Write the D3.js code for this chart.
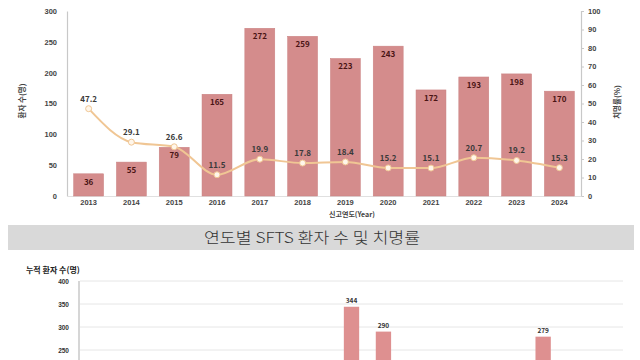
<!DOCTYPE html>
<html><head><meta charset="utf-8">
<script src="https://cdn.jsdelivr.net/npm/d3@7/dist/d3.min.js"></script>
<style>
html,body{margin:0;padding:0;background:#fff;}
svg{display:block;font-family:"Noto Sans CJK KR","Noto Sans",sans-serif;}
</style></head>
<body>
<svg id="c" width="640" height="360"></svg>
<script>
// Top chart data
const years = ["2013","2014","2015","2016","2017","2018","2019","2020","2021","2022","2023","2024"];
const patients = [36,55,79,165,272,259,223,243,172,193,198,170];
const fatality = [47.2,29.1,26.6,11.5,19.9,17.8,18.4,15.2,15.1,20.7,19.2,15.3];
const leftTicks = [0,50,100,150,200,250,300];
const rightTicks = [0,10,20,30,40,50,60,70,80,90,100];

// Bottom chart data (cumulative patients by region; only top of chart visible)
const regions = ["서울","부산","대구","인천","광주","대전","울산","세종","경기","강원","충북","충남","전북","전남","경북","경남","제주"];
const cumPatients = [30,60,40,20,15,20,45,10,344,290,120,190,170,195,279,200,160];
const bottomTicks = [250,300,350,400];

const W = 640, H = 360;
const svg = d3.select("#c");
const barColor = "#d48c8c";
const lineColor = "#f0c694";

// ---------- Top chart ----------
const x = d3.scaleBand().domain(years).range([67,581]).paddingInner(0.3).paddingOuter(0.155);
const yL = d3.scaleLinear().domain([0,300]).range([196,11]);
const yR = d3.scaleLinear().domain([0,100]).range([196,11]);

const gTop = svg.append("g");

const axL = gTop.append("g").attr("transform","translate(67,0)")
  .call(d3.axisLeft(yL).tickValues(leftTicks).tickSize(0).tickPadding(10));
axL.select(".domain").attr("stroke","#c8c8c8").attr("stroke-width",1.2);
axL.selectAll("text").attr("font-size",7.5).attr("font-weight",700).attr("fill","#444");

const axR = gTop.append("g").attr("transform","translate(581,0)")
  .call(d3.axisRight(yR).tickValues(rightTicks).tickSize(3).tickPadding(4));
axR.select(".domain").attr("stroke","#c8c8c8").attr("stroke-width",1.2);
axR.selectAll("line").attr("stroke","#c8c8c8");
axR.selectAll("text").attr("font-size",7.5).attr("font-weight",700).attr("fill","#444");

const axX = gTop.append("g").attr("transform","translate(0,196)")
  .call(d3.axisBottom(x).tickSize(0).tickPadding(4));
axX.select(".domain").attr("stroke","#e0e0e0");
axX.selectAll("text").attr("font-size",7.5).attr("font-weight",700).attr("fill","#444");

gTop.append("g").selectAll("rect").data(patients).join("rect")
  .attr("x",(d,i)=>x(years[i])).attr("width",x.bandwidth())
  .attr("y",d=>yL(d)).attr("height",d=>yL(0)-yL(d))
  .attr("fill",barColor).attr("stroke","#c98080").attr("stroke-width",0.5);

gTop.append("g").selectAll("text").data(patients).join("text")
  .attr("x",(d,i)=>x(years[i])+x.bandwidth()/2).attr("y",d=>yL(d)+11)
  .attr("text-anchor","middle").attr("font-size",8).attr("font-weight",700)
  .attr("fill","#4a1414").text(d=>d);

const cx = (i)=>x(years[i])+x.bandwidth()/2;
const line = d3.line().x((d,i)=>cx(i)).y(d=>yR(d)).curve(d3.curveMonotoneX);
gTop.append("path").datum(fatality).attr("d",line)
  .attr("fill","none").attr("stroke",lineColor).attr("stroke-width",2);
gTop.append("g").selectAll("circle").data(fatality).join("circle")
  .attr("cx",(d,i)=>cx(i)).attr("cy",d=>yR(d)).attr("r",3)
  .attr("fill","#fff6ea").attr("stroke",lineColor).attr("stroke-width",1);
gTop.append("g").selectAll("text").data(fatality).join("text")
  .attr("x",(d,i)=>cx(i)).attr("y",d=>yR(d)-7)
  .attr("text-anchor","middle").attr("font-size",8).attr("font-weight",700)
  .attr("fill","#3a3a3a").text(d=>d.toFixed(1));

gTop.append("text").attr("transform","translate(25,101) rotate(-90)")
  .attr("text-anchor","middle").attr("font-size",7.5).attr("font-weight",700).attr("fill","#444")
  .text("환자 수(명)");
gTop.append("text").attr("transform","translate(620,102) rotate(-90)")
  .attr("text-anchor","middle").attr("font-size",7.5).attr("font-weight",700).attr("fill","#444")
  .text("치명률(%)");
gTop.append("text").attr("x",352).attr("y",217)
  .attr("text-anchor","middle").attr("font-size",7).attr("font-weight",700).attr("fill","#444")
  .text("신고연도(Year)");

// ---------- Banner ----------
svg.append("rect").attr("x",8).attr("y",225).attr("width",626).attr("height",25).attr("fill","#d9d9d9");
svg.append("text").attr("x",312).attr("y",243).attr("text-anchor","middle")
  .attr("font-size",15).attr("font-weight",300).attr("fill","#333")
  .attr("textLength",216).attr("lengthAdjust","spacingAndGlyphs")
  .text("연도별 SFTS 환자 수 및 치명률");

// ---------- Bottom chart ----------
const x2 = d3.scaleBand().domain(regions).range([80,623]).paddingInner(0.52).paddingOuter(0.26);
const y2 = d3.scaleLinear().domain([0,400]).range([465,281]);
const gBot = svg.append("g");

gBot.append("g").selectAll("line").data(bottomTicks).join("line")
  .attr("x1",80).attr("x2",623).attr("y1",d=>y2(d)).attr("y2",d=>y2(d))
  .attr("stroke","#e6e6e6").attr("stroke-width",1);

gBot.append("line").attr("x1",79).attr("x2",79).attr("y1",y2(400)).attr("y2",H)
  .attr("stroke","#c8c8c8").attr("stroke-width",1.5);
const axB = gBot.append("g").attr("transform","translate(79,0)")
  .call(d3.axisLeft(y2).tickValues(bottomTicks).tickSize(0).tickPadding(10));
axB.select(".domain").remove();
axB.selectAll("text").attr("font-size",6.5).attr("font-weight",700).attr("fill","#333");

gBot.append("g").selectAll("rect").data(cumPatients).join("rect")
  .attr("x",(d,i)=>x2(regions[i])).attr("width",x2.bandwidth())
  .attr("y",d=>y2(d)).attr("height",d=>y2(0)-y2(d)).attr("fill","#de9090");
gBot.append("g").selectAll("text")
  .data(cumPatients.map((v,i)=>({v,r:regions[i]})).filter(d=>y2(d.v)-4 < H-8))
  .join("text")
  .attr("x",d=>x2(d.r)+x2.bandwidth()/2).attr("y",d=>y2(d.v)-4)
  .attr("text-anchor","middle").attr("font-size",6.5).attr("font-weight",700).attr("fill","#333")
  .text(d=>d.v);

gBot.append("text").attr("x",26).attr("y",273).attr("font-size",8).attr("font-weight",700).attr("fill","#222")
  .text("누적 환자 수(명)");
</script>
</body></html>
